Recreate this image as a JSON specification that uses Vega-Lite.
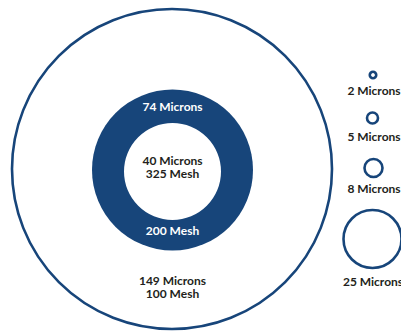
{
  "$schema": "https://vega.github.io/schema/vega-lite/v6.json",
  "width": 401,
  "height": 331,
  "padding": 0,
  "autosize": "none",
  "background": "white",
  "config": {"view": {"stroke": null}},
  "datasets": {
    "rings": [
      {"name": "149 Microns", "microns": 149, "cx": 172, "cy": 169},
      {"name": "2 Microns", "microns": 2, "cx": 373, "cy": 75},
      {"name": "5 Microns", "microns": 5, "cx": 372.5, "cy": 118},
      {"name": "8 Microns", "microns": 8, "cx": 373.5, "cy": 168},
      {"name": "25 Microns", "microns": 25, "cx": 372.5, "cy": 239}
    ],
    "donut": [
      {"part": "outer", "microns": 74, "cx": 172.5, "cy": 170},
      {"part": "hole", "microns": 40, "cx": 172.5, "cy": 171.5}
    ],
    "labels": [
      {"text": "74 Microns", "tx": 172.5, "ty": 107, "tone": "light"},
      {"text": "200 Mesh", "tx": 172.5, "ty": 230.5, "tone": "light"},
      {"text": "40 Microns", "tx": 172.5, "ty": 160.5, "tone": "dark"},
      {"text": "325 Mesh", "tx": 172.5, "ty": 173.5, "tone": "dark"},
      {"text": "149 Microns", "tx": 172.5, "ty": 280.5, "tone": "dark"},
      {"text": "100 Mesh", "tx": 172.5, "ty": 293.5, "tone": "dark"},
      {"text": "2 Microns", "tx": 374, "ty": 91, "tone": "dark"},
      {"text": "5 Microns", "tx": 374, "ty": 137, "tone": "dark"},
      {"text": "8 Microns", "tx": 374, "ty": 189, "tone": "dark"},
      {"text": "25 Microns", "tx": 373, "ty": 282, "tone": "dark"}
    ]
  },
  "resolve": {"scale": {"color": "independent"}},
  "layer": [
    {
      "data": {"name": "rings"},
      "mark": {"type": "point", "shape": "circle", "filled": false, "stroke": "#17457a", "strokeWidth": 2.6, "opacity": 1},
      "encoding": {
        "x": {"field": "cx", "type": "quantitative", "scale": {"domain": [0, 401], "nice": false, "zero": false}, "axis": null},
        "y": {"field": "cy", "type": "quantitative", "scale": {"domain": [0, 331], "nice": false, "zero": false, "reverse": true}, "axis": null},
        "size": {"field": "microns", "type": "quantitative", "legend": null,
          "scale": {"domain": [2, 5, 8, 25, 40, 74, 149], "range": [42, 121, 324, 3364, 9409, 25921, 102400]}}
      }
    },
    {
      "data": {"name": "donut"},
      "mark": {"type": "point", "shape": "circle", "filled": true, "opacity": 1},
      "encoding": {
        "x": {"field": "cx", "type": "quantitative", "axis": null},
        "y": {"field": "cy", "type": "quantitative", "axis": null},
        "size": {"field": "microns", "type": "quantitative", "legend": null},
        "color": {"field": "part", "type": "nominal", "legend": null,
          "scale": {"domain": ["outer", "hole"], "range": ["#17457a", "#ffffff"]}}
      }
    },
    {
      "data": {"name": "labels"},
      "mark": {"type": "text", "font": "Lato", "fontWeight": "bold", "fontSize": 12, "align": "center", "baseline": "middle"},
      "encoding": {
        "x": {"field": "tx", "type": "quantitative", "axis": null},
        "y": {"field": "ty", "type": "quantitative", "axis": null},
        "text": {"field": "text", "type": "nominal"},
        "color": {"field": "tone", "type": "nominal", "legend": null,
          "scale": {"domain": ["light", "dark"], "range": ["#ffffff", "#231f20"]}}
      }
    }
  ]
}
